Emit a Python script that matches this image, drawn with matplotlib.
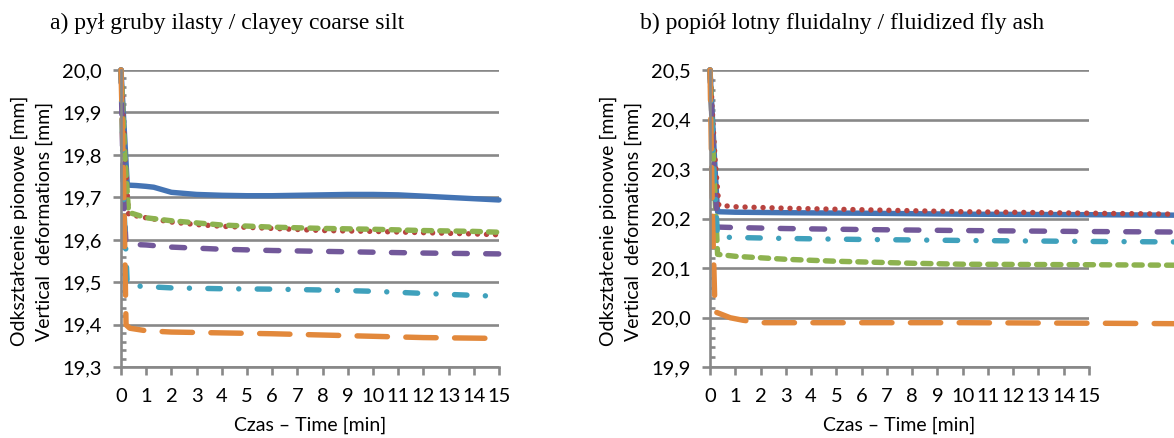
import matplotlib
matplotlib.use("Agg")
import matplotlib.pyplot as plt
from matplotlib.ticker import MultipleLocator, FuncFormatter

# ---------------- data ----------------
# Panel a: clayey coarse silt
a_blue_x = [0, 0.25, 0.6, 1.0, 1.3, 2, 3, 4, 5, 6, 7, 8, 9, 10, 11, 12, 13, 14, 15]
a_blue_y = [20.0, 19.729, 19.728, 19.726, 19.724, 19.712, 19.707, 19.705, 19.704, 19.704,
            19.705, 19.706, 19.707, 19.707, 19.706, 19.703, 19.700, 19.697, 19.694]
a_red_x = [0, 0.15, 0.3, 1, 2, 3, 4, 6, 8, 10, 12, 14, 15]
a_red_y = [20.0, 19.8, 19.66, 19.652, 19.642, 19.636, 19.632, 19.627, 19.622, 19.62, 19.617, 19.614, 19.612]
a_green_x = [0, 0.15, 0.3, 1, 2, 3, 4, 6, 8, 10, 12, 14, 15]
a_green_y = [20.0, 19.8, 19.665, 19.652, 19.645, 19.64, 19.635, 19.63, 19.627, 19.625, 19.622, 19.62, 19.618]
a_purple_x = [0, 0.1, 0.2, 1, 2, 4, 6, 8, 10, 12, 15]
a_purple_y = [20.0, 19.7, 19.59, 19.588, 19.583, 19.578, 19.575, 19.573, 19.571, 19.569, 19.567]
a_teal_x = [0, 0.1, 0.25, 1, 2, 4, 6, 8, 10, 12, 15]
a_teal_y = [20.0, 19.7, 19.493, 19.49, 19.487, 19.485, 19.484, 19.482, 19.479, 19.474, 19.467]
a_orange_x = [0, 0.1, 0.2, 0.35, 1, 2, 4, 6, 8, 10, 12, 15]
a_orange_y = [20.0, 19.75, 19.40, 19.392, 19.386, 19.383, 19.381, 19.379, 19.376, 19.373, 19.370, 19.368]

# Panel b: fluidized fly ash
b_blue_x = [0, 0.2, 0.3, 1, 3, 6, 10, 15, 18.5]
b_blue_y = [20.5, 20.3, 20.214, 20.213, 20.212, 20.211, 20.209, 20.208, 20.207]
b_red_x = [0, 0.2, 0.35, 1, 3, 6, 10, 15, 18.5]
b_red_y = [20.5, 20.32, 20.227, 20.224, 20.221, 20.218, 20.214, 20.211, 20.209]
b_purple_x = [0, 0.15, 0.3, 1, 3, 6, 10, 15, 18.5]
b_purple_y = [20.5, 20.3, 20.183, 20.182, 20.18, 20.178, 20.176, 20.174, 20.173]
b_teal_x = [0, 0.15, 0.3, 1, 3, 6, 10, 15, 18.5]
b_teal_y = [20.5, 20.3, 20.163, 20.162, 20.16, 20.158, 20.156, 20.154, 20.153]
b_green_x = [0, 0.15, 0.3, 1, 2, 3, 5, 8, 10, 15, 18.5]
b_green_y = [20.5, 20.3, 20.128, 20.124, 20.121, 20.118, 20.114, 20.11, 20.108, 20.107, 20.106]
b_orange_x = [0, 0.1, 0.2, 0.4, 0.8, 1.3, 2, 5, 10, 15, 18.5]
b_orange_y = [20.5, 20.2, 20.012, 20.008, 20.0, 19.995, 19.99, 19.99, 19.99, 19.989, 19.988]

x_ticks = list(range(0, 16))
title_a = "a) pył gruby ilasty / clayey coarse silt"
title_b = "b) popiół lotny fluidalny / fluidized fly ash"
ylabel = "Odkształcenie pionowe [mm]\nVertical  deformations [mm]"
xlabel = "Czas – Time [min]"

# ---------------- style ----------------
C_BLUE = "#4474B4"
C_RED = "#B8433F"
C_GREEN = "#8DB24F"
C_PURPLE = "#72589A"
C_TEAL = "#3FA1BC"
C_ORANGE = "#E2883B"
GRID = "#888888"
LW = 3.9

STY = {
    "blue": dict(color=C_BLUE, linestyle="-"),
    "red": dict(color=C_RED, linestyle=(0, (0.01, 1.65))),
    "green": dict(color=C_GREEN, linestyle=(0, (1.5, 1.5))),
    "purple": dict(color=C_PURPLE, linestyle=(0, (2.4, 3.4))),
    "teal": dict(color=C_TEAL, linestyle=(0, (2.3, 3.4, 0.01, 3.4))),
    "orange": dict(color=C_ORANGE, linestyle=(0, (5.6, 3.4))),
}

FONT = "Lato"
TICK_FS = 14.5

W, H = 1174, 438
fig = plt.figure(figsize=(W / 100, H / 100), dpi=100)


def make_axes(left_px, right_px, top_px, bottom_px):
    return fig.add_axes([left_px / W, 1 - bottom_px / H,
                         (right_px - left_px) / W, (bottom_px - top_px) / H])


def style_axes(ax, ymin, ymax):
    ax.set_xlim(0, 15)
    ax.set_ylim(ymin, ymax)
    ax.set_xticks(x_ticks)
    ax.yaxis.set_major_locator(MultipleLocator(0.1))
    ax.yaxis.set_minor_locator(MultipleLocator(0.02))
    ax.yaxis.set_major_formatter(FuncFormatter(lambda v, p: f"{v:.1f}".replace(".", ",")))
    for s in ("top", "right"):
        ax.spines[s].set_visible(False)
    for s in ("left", "bottom"):
        ax.spines[s].set_color(GRID)
        ax.spines[s].set_linewidth(1.9)
    ax.grid(axis="y", which="major", color=GRID, linewidth=1.9)
    ax.set_axisbelow(True)
    ax.tick_params(axis="both", which="major", direction="out", length=6, width=1.9,
                   color=GRID, labelsize=TICK_FS, labelcolor="black")
    ax.tick_params(axis="y", which="major", pad=8)
    ax.tick_params(axis="x", which="major", pad=9)
    ax.tick_params(axis="y", which="minor", direction="in", length=3.5, width=1.9, color=GRID)
    for lab in ax.get_xticklabels() + ax.get_yticklabels():
        lab.set_family(FONT)


def draw(ax, series):
    for key, xs, ys in series:
        ax.plot(xs, ys, linewidth=LW, solid_capstyle="round", dash_capstyle="round",
                clip_on=False, **STY[key])


ax_a = make_axes(121, 499, 70, 367.3)
style_axes(ax_a, 19.3, 20.0)
draw(ax_a, [
    ("blue", a_blue_x, a_blue_y),
    ("red", a_red_x, a_red_y),
    ("green", a_green_x, a_green_y),
    ("purple", a_purple_x, a_purple_y),
    ("teal", a_teal_x, a_teal_y),
    ("orange", a_orange_x, a_orange_y),
])

ax_b = make_axes(710, 1089, 70, 367.3)
style_axes(ax_b, 19.9, 20.5)
draw(ax_b, [
    ("blue", b_blue_x, b_blue_y),
    ("red", b_red_x, b_red_y),
    ("green", b_green_x, b_green_y),
    ("purple", b_purple_x, b_purple_y),
    ("teal", b_teal_x, b_teal_y),
    ("orange", b_orange_x, b_orange_y),
])

# titles
fig.text(50 / W, 1 - 23 / H, title_a, family="Liberation Serif", fontsize=17, va="center", ha="left")
fig.text(640 / W, 1 - 23 / H, title_b, family="Liberation Serif", fontsize=17, va="center", ha="left")

# axis labels
for cx, axc in ((32, 310), (621, 899)):
    fig.text(cx / W, 1 - 221 / H, ylabel, family=FONT, fontsize=14, rotation=90,
             va="center", ha="center", linespacing=1.5)
    fig.text(axc / W, 1 - 425 / H, xlabel, family=FONT, fontsize=14, va="center", ha="center")

fig.savefig("out.png", dpi=100)
